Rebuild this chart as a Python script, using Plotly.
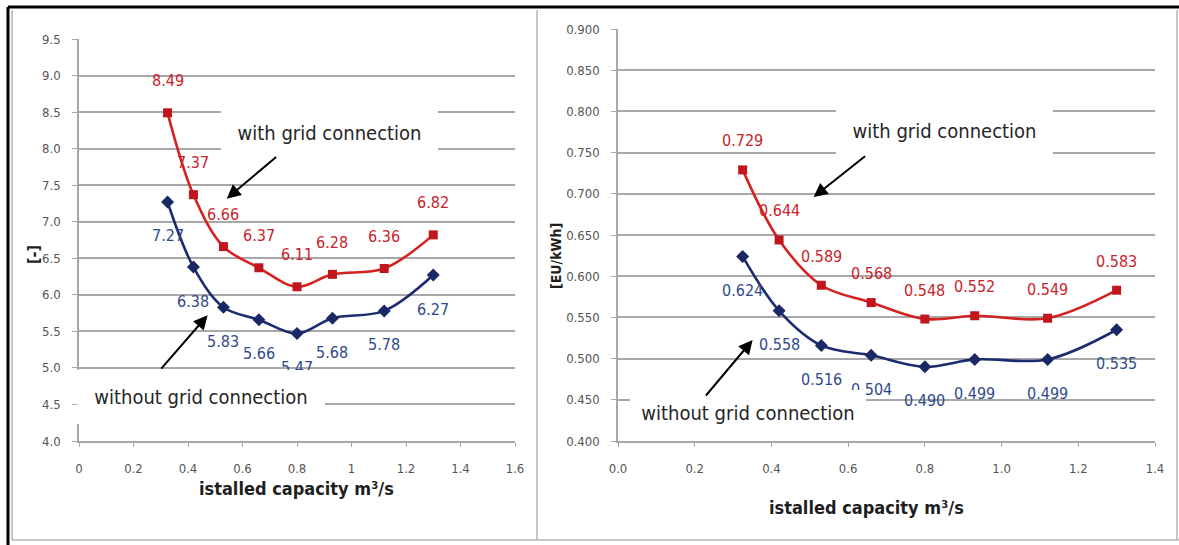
import plotly.graph_objects as go

# Installed capacity (m3/s) of the eight design variants
capacity = [0.325, 0.42, 0.53, 0.66, 0.80, 0.93, 1.12, 1.30]

# Left panel: dimensionless indicator [-]
ratio_grid = [8.49, 7.37, 6.66, 6.37, 6.11, 6.28, 6.36, 6.82]
ratio_nogrid = [7.27, 6.38, 5.83, 5.66, 5.47, 5.68, 5.78, 6.27]

# Right panel: energy cost [EU/kWh]
cost_grid = [0.729, 0.644, 0.589, 0.568, 0.548, 0.552, 0.549, 0.583]
cost_nogrid = [0.624, 0.558, 0.516, 0.504, 0.490, 0.499, 0.499, 0.535]

left_xticks = [0, 0.2, 0.4, 0.6, 0.8, 1, 1.2, 1.4, 1.6]
left_xlabels = ["0", "0.2", "0.4", "0.6", "0.8", "1", "1.2", "1.4", "1.6"]

W, H = 1179, 545
NARROW = "DejaVu Sans Condensed, Liberation Sans Narrow, sans-serif"
RED = "#D52220"
RED_MK = "#C0161C"
BLUE = "#1D2B70"
BLUE_MK = "#1A2966"
RED_TXT = "#C8232A"
BLUE_TXT = "#2F4A8C"
GRID = "#A8A8A8"
TICK_TXT = "#555555"


def px(x):
    return x / W


def py(y):
    return 1 - y / H


fig = go.Figure()
label_annotations = []


def add_series(xa, ya, vals, fmt, color, mcolor, tcolor, symbol, shift):
    fig.add_trace(go.Scatter(
        x=capacity, y=vals, xaxis=xa, yaxis=ya,
        mode="lines+markers",
        line=dict(color=color, width=2.6, shape="spline", smoothing=1.0),
        marker=dict(symbol=symbol, size=9 if symbol == "square" else 10,
                    color=mcolor, line=dict(width=0)),
        cliponaxis=False, showlegend=False, hoverinfo="x+y",
    ))
    # value labels sit a fixed distance above / below each point
    for xv, yv in zip(capacity, vals):
        label_annotations.append(dict(
            x=xv, y=yv, xref=xa, yref=ya, text=fmt.format(yv),
            xanchor="center", yanchor="middle",
            showarrow=False, yshift=shift,
            font=dict(family=NARROW, size=16, color=tcolor)))


add_series("x", "y", ratio_grid, "{:.2f}", RED, RED_MK, RED_TXT, "square", 32)
add_series("x", "y", ratio_nogrid, "{:.2f}", BLUE, BLUE_MK, BLUE_TXT, "diamond", -34)
add_series("x2", "y2", cost_grid, "{:.3f}", RED, RED_MK, RED_TXT, "square", 29)
add_series("x2", "y2", cost_nogrid, "{:.3f}", BLUE, BLUE_MK, BLUE_TXT, "diamond", -34)

tickfont = dict(family=NARROW, size=13, color=TICK_TXT)
common_y = dict(showgrid=True, gridcolor=GRID, gridwidth=2, showline=True,
                linecolor=GRID, linewidth=1.5, ticks="outside", ticklen=5,
                tickcolor=GRID, tickfont=tickfont, zeroline=False,
                ticklabelstandoff=9, automargin=False)
common_x = dict(showgrid=False, showline=True, linecolor=GRID, linewidth=2,
                ticks="outside", ticklen=4, tickcolor=GRID, tickfont=tickfont,
                zeroline=False, ticklabelstandoff=10, automargin=False)

fig.update_layout(
    width=W, height=H,
    margin=dict(l=0, r=0, t=0, b=0, pad=0, autoexpand=False),
    paper_bgcolor="white", plot_bgcolor="white",
    xaxis=dict(domain=[px(79), px(515)], range=[0, 1.6], tickvals=left_xticks,
               ticktext=left_xlabels, anchor="y", **common_x),
    yaxis=dict(domain=[py(441), py(39)], range=[4.0, 9.5], dtick=0.5,
               tickformat=".1f", anchor="x", **common_y),
    xaxis2=dict(domain=[px(618), px(1155)], range=[0, 1.4], dtick=0.2,
                tickformat=".1f", anchor="y2", **common_x),
    yaxis2=dict(domain=[py(441), py(29)], range=[0.4, 0.9], dtick=0.05,
                tickformat=".3f", anchor="x2", **common_y),
)

shapes = []
# frame around the two panels
frame_gray = "#B4B4B4"
for (x0, y0, x1, y1) in [(12, 10, 12, 540), (12, 540, 1179, 540),
                         (537, 10, 537, 540), (1177, 10, 1177, 540)]:
    shapes.append(dict(type="line", xref="paper", yref="paper",
                       x0=px(x0), x1=px(x1), y0=py(y0), y1=py(y1),
                       line=dict(color=frame_gray, width=1.5), layer="above"))
for (x0, y0, x1, y1) in [(8, 7, 1179, 7), (8, 7, 8, 545)]:
    shapes.append(dict(type="line", xref="paper", yref="paper",
                       x0=px(x0), x1=px(x1), y0=py(y0), y1=py(y1),
                       line=dict(color="black", width=3), layer="above"))
fig.update_layout(shapes=shapes)

callout_font = dict(family=NARROW, size=20, color="#262626")
title_font = dict(family=NARROW, size=18, color="#1E1E1E")

# callout texts on white boxes (left, top, right, bottom in pixels)
callouts = [
    ("with grid connection", 221, 98, 438, 168),
    ("without grid connection", 77, 370, 325, 424),
    ("with grid connection", 836, 84, 1053, 178),
    ("without grid connection", 630, 390, 866, 436),
]
callout_annotations = [
    dict(x=px((l + r) / 2), y=py((t + b) / 2), xref="paper", yref="paper",
         xanchor="center", yanchor="middle",
         text=txt, showarrow=False, width=r - l, height=b - t,
         bgcolor="white", borderpad=0, borderwidth=0, valign="middle",
         font=callout_font)
    for txt, l, t, r, b in callouts
]

arrow = dict(text="", showarrow=True, arrowhead=2, arrowsize=1.4,
             arrowwidth=2, arrowcolor="black")
arrow_annotations = [
    dict(x=0.542, y=7.316, ax=0.729, ay=7.903, xref="x", yref="y",
         axref="x", ayref="y", **arrow),
    dict(x=0.472, y=5.72, ax=0.297, ay=4.97, xref="x", yref="y",
         axref="x", ayref="y", **arrow),
    dict(x=0.510, y=0.696, ax=0.648, ay=0.747, xref="x2", yref="y2",
         axref="x2", ayref="y2", **arrow),
    dict(x=0.351, y=0.5226, ax=0.226, ay=0.4534, xref="x2", yref="y2",
         axref="x2", ayref="y2", **arrow),
]

title_annotations = [
    dict(x=px(297), y=py(488), xref="paper", yref="paper",
         xanchor="center", yanchor="middle",
         text="<b>istalled capacity m³/s</b>", showarrow=False, font=title_font),
    dict(x=px(866), y=py(507), xref="paper", yref="paper",
         xanchor="center", yanchor="middle",
         text="<b>istalled capacity m³/s</b>", showarrow=False, font=title_font),
    dict(x=px(33), y=py(255), xref="paper", yref="paper", text="<b>[-]</b>",
         xanchor="center", yanchor="middle",
         textangle=-90, showarrow=False,
         font=dict(family=NARROW, size=16, color="#1E1E1E")),
    dict(x=px(556), y=py(256), xref="paper", yref="paper", text="<b>[EU/kWh]</b>",
         xanchor="center", yanchor="middle",
         textangle=-90, showarrow=False,
         font=dict(family=NARROW, size=14, color="#1E1E1E")),
]

fig.update_layout(annotations=label_annotations + callout_annotations
                  + arrow_annotations + title_annotations)

fig.write_html("out.html")
